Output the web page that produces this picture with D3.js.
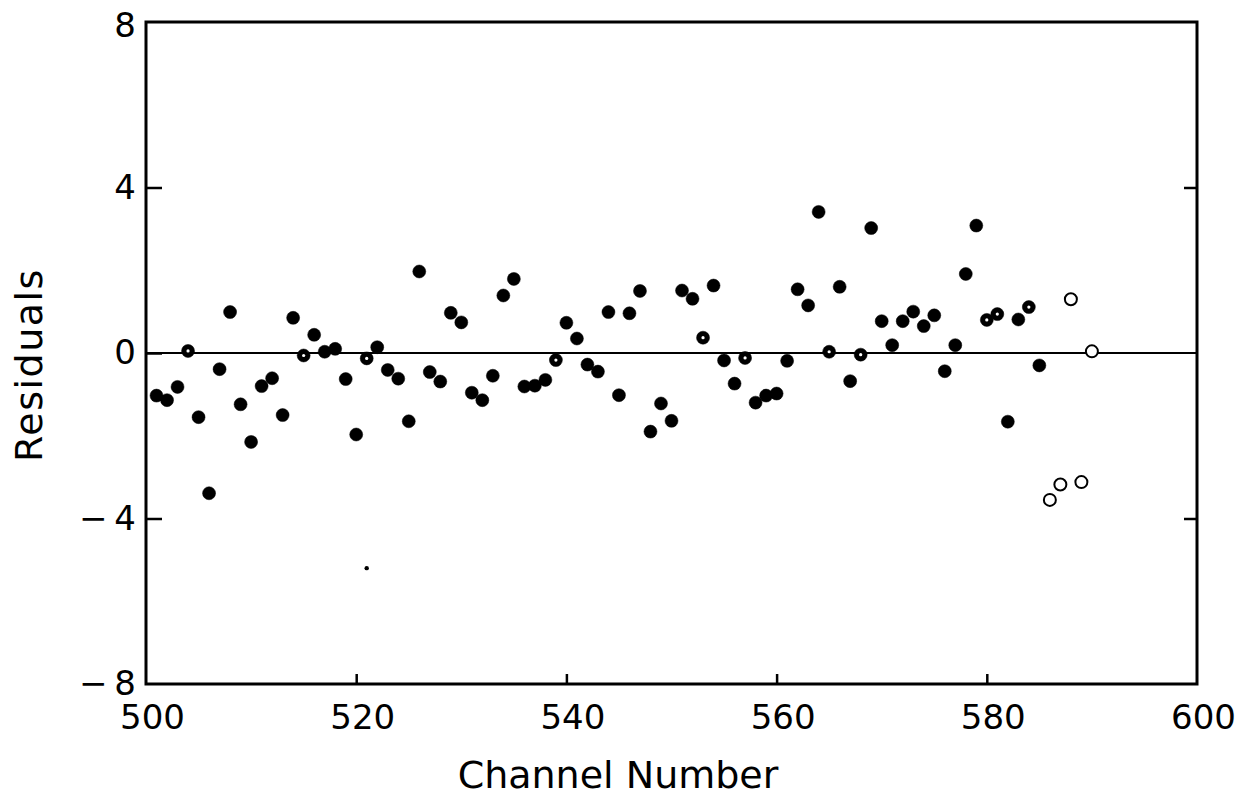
<!DOCTYPE html>
<html lang="en">

<head>
  <meta charset="UTF-8" />
  <title>Residuals vs Channel Number</title>
  <style>
    body {
      margin: 0;
      background: #fff;
    }

    text {
      font-family: "DejaVu Sans", sans-serif;
      fill: #000;
    }

    .tick line {
      stroke: #000;
      stroke-width: 2.5;
    }

    .tick text {
      font-size: 34px;
    }
  </style>
</head>

<body>
  <svg width="1256" height="802"></svg>

  <script src="https://d3js.org/d3.v7.min.js"></script>
  <script>
    // data
    const channels = d3.range(501, 591);
    const residuals = [
      -1.03, -1.14, -0.82, 0.05, -1.55, -3.39, -0.39, 0.99, -1.24, -2.15,
      -0.80, -0.61, -1.50, 0.85, -0.06, 0.44, 0.03, 0.10, -0.63, -1.97,
      -0.13, 0.14, -0.41, -0.62, -1.65, 1.97, -0.46, -0.69, 0.97, 0.74,
      -0.96, -1.14, -0.55, 1.39, 1.79, -0.81, -0.79, -0.65, -0.17, 0.73,
      0.35, -0.28, -0.45, 0.99, -1.02, 0.96, 1.50, -1.90, -1.22, -1.64,
      1.51, 1.31, 0.37, 1.63, -0.18, -0.74, -0.12, -1.20, -1.03, -0.98,
      -0.19, 1.54, 1.15, 3.41, 0.03, 1.60, -0.68, -0.04, 3.02, 0.77,
      0.19, 0.77, 1.00, 0.65, 0.91, -0.44, 0.19, 1.91, 3.08, 0.80,
      0.94, -1.66, 0.81, 1.11, -0.30, -3.55, -3.18, 1.30, -3.12, 0.04
    ];
    // marker style per channel: ring = dark with white centre, open = hollow
    const ringChannels = [504, 515, 521, 539, 553, 557, 565, 568, 580, 581, 584];
    const openChannels = [586, 587, 588, 589, 590];
    // the stray speck under channel 521
    const strayChannels = [521];
    const strayValues = [-5.2];

    const xTicks = [500, 520, 540, 560, 580, 600];
    const yTicks = [-8, -4, 0, 4, 8];
    const rightTicks = [-4, 4];

    const svg = d3.select('svg');

    const x = d3.scaleLinear().domain([500, 600]).range([146, 1197]);
    const y = d3.scaleLinear().domain([-8, 8]).range([684, 22]);

    const fmtY = d => d < 0 ? '\u2212\u2009' + Math.abs(d) : String(d);

    // axes, ticks pointing into the frame
    const gx = svg.append('g')
      .attr('transform', `translate(0,${y(-8)})`)
      .call(d3.axisBottom(x).tickValues(xTicks).tickSize(-10).tickPadding(21));
    gx.selectAll('.tick text').attr('dx', 6);
    gx.selectAll('.tick').filter(d => d === 500 || d === 600).select('line').remove();

    const gy = svg.append('g')
      .attr('transform', `translate(${x(500)},0)`)
      .call(d3.axisLeft(y).tickValues(yTicks).tickSize(-16).tickPadding(10).tickFormat(fmtY));
    gy.selectAll('.tick').filter(d => Math.abs(d) === 8).select('line').remove();
    gy.selectAll('.tick text').filter(d => d === 8).attr('dy', '0.42em');

    svg.append('g')
      .attr('transform', `translate(${x(600)},0)`)
      .call(d3.axisRight(y).tickValues(rightTicks).tickSize(-13).tickFormat(''));

    svg.selectAll('.domain').remove();

    // frame
    svg.append('rect')
      .attr('x', x(500))
      .attr('y', y(8))
      .attr('width', x(600) - x(500))
      .attr('height', y(-8) - y(8))
      .attr('fill', 'none')
      .attr('stroke', '#000')
      .attr('stroke-width', 3);

    // zero line
    svg.append('line')
      .attr('x1', x(500)).attr('x2', x(600))
      .attr('y1', y(0)).attr('y2', y(0))
      .attr('stroke', '#000')
      .attr('stroke-width', 2);

    const pts = channels.map((c, i) => ({
      c: c,
      v: residuals[i],
      kind: openChannels.includes(c) ? 'open' : ringChannels.includes(c) ? 'ring' : 'fill'
    }));

    svg.append('g')
      .selectAll('circle')
      .data(pts)
      .join('circle')
      .attr('cx', d => x(d.c))
      .attr('cy', d => y(d.v))
      .attr('r', d => d.kind === 'open' ? 6 : 6.5)
      .attr('fill', d => d.kind === 'open' ? '#fff' : '#000')
      .attr('stroke', '#000')
      .attr('stroke-width', d => d.kind === 'open' ? 2 : 0.5);

    svg.append('g')
      .selectAll('circle')
      .data(pts.filter(d => d.kind === 'ring'))
      .join('circle')
      .attr('cx', d => x(d.c))
      .attr('cy', d => y(d.v))
      .attr('r', 1.6)
      .attr('fill', '#fff');

    svg.append('g')
      .selectAll('circle')
      .data(strayChannels)
      .join('circle')
      .attr('cx', d => x(d))
      .attr('cy', (d, i) => y(strayValues[i]))
      .attr('r', 2.2)
      .attr('fill', '#000');

    // axis titles
    svg.append('text')
      .attr('x', 618)
      .attr('y', 788)
      .attr('text-anchor', 'middle')
      .style('font-size', '38px')
      .text('Channel Number');

    svg.append('text')
      .attr('transform', 'translate(42,365) rotate(-90)')
      .attr('text-anchor', 'middle')
      .style('font-size', '38px')
      .style('letter-spacing', '1.5px')
      .text('Residuals');
  </script>
</body>

</html>
